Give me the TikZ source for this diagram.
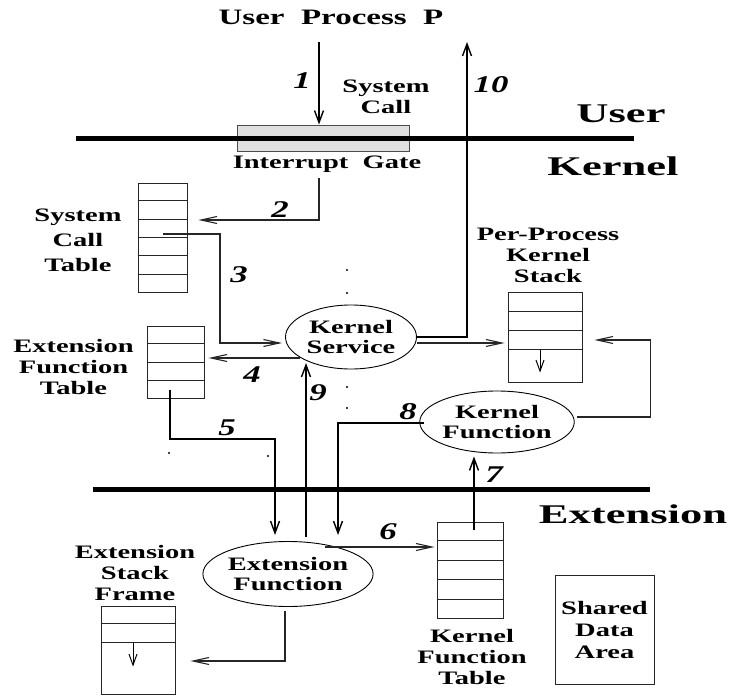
\documentclass[tikz,border=0pt]{standalone}
\usepackage{fontspec}
\setmainfont{Liberation Serif}
\newfontfamily\lblfont{Liberation Serif}[FakeStretch=1.5]
\newfontfamily\bigfont{Liberation Serif}[FakeStretch=1.65]
\newfontfamily\numfont{Liberation Serif}[FakeStretch=1.45]
\usetikzlibrary{arrows.meta,calc,shapes.geometric}

\tikzset{
  lbl/.style={font=\lblfont\bfseries\fontsize{19}{21}\selectfont, align=center, inner sep=0pt},
  biglbl/.style={font=\bigfont\bfseries\fontsize{27}{30}\selectfont, inner sep=0pt},
  num/.style={font=\numfont\bfseries\itshape\fontsize{24}{26}\selectfont, inner sep=0pt},
  tbl/.style={draw=black!85, line width=0.9pt, inner sep=0pt, fill=white},
  oval/.style={ellipse, draw, line width=0.9pt, inner sep=0pt, fill=white,
    font=\lblfont\bfseries\fontsize{19}{20}\selectfont, align=center},
  vflow/.style={line width=1.4pt, -{Straight Barb[length=12pt,width=9pt]}},
  hflow/.style={line width=1.1pt, draw=black!85, -{Straight Barb[length=16pt,width=7pt]}},
  border/.style={line width=5pt},
  dot/.style={circle, fill, inner sep=0pt, minimum size=2.2pt}
}

\begin{document}
\begin{tikzpicture}[x=1pt,y=-1pt]
\useasboundingbox (0,0) rectangle (734,696);

% ---- tables and boxes ----
\node[tbl, minimum width=49pt, minimum height=109pt] (sct) at (162.5,237.5) {};
\foreach \i in {1,...,5}
  \draw[black!85, line width=0.9pt] ($(sct.north west)!\i/6!(sct.south west)$) -- ($(sct.north east)!\i/6!(sct.south east)$);

\node[tbl, minimum width=57pt, minimum height=72pt] (eft) at (175.5,362) {};
\foreach \i in {1,...,3}
  \draw[black!85, line width=0.9pt] ($(eft.north west)!\i/4!(eft.south west)$) -- ($(eft.north east)!\i/4!(eft.south east)$);

\node[tbl, minimum width=74pt, minimum height=90pt] (pks) at (545,337) {};
\foreach \d in {20,39,58}
  \draw[black!85, line width=0.9pt] ($(pks.north west)+(0,\d)$) -- ($(pks.north east)+(0,\d)$);

\node[tbl, minimum width=66pt, minimum height=96pt] (kft) at (470,570) {};
\foreach \i in {1,...,4}
  \draw[black!85, line width=0.9pt] ($(kft.north west)!\i/5!(kft.south west)$) -- ($(kft.north east)!\i/5!(kft.south east)$);

\node[tbl, minimum width=74pt, minimum height=88pt] (esf) at (138,650) {};
\foreach \d in {18,37}
  \draw[black!85, line width=0.9pt] ($(esf.north west)+(0,\d)$) -- ($(esf.north east)+(0,\d)$);

\node[tbl, minimum width=99pt, minimum height=109pt, lbl] (sda) at (604.5,629.5) {};
\node[lbl] (sdatxt) at (sda.center) {Shared\\[1pt]Data\\[1pt]Area};

% interrupt gate straddling the user/kernel border
\node[draw=black!70, fill=black!12, line width=1pt, minimum width=172pt, minimum height=26pt, inner sep=0pt] (gate) at (323,138) {};

% ---- protection borders ----
\coordinate (ub1) at (76,138);  \coordinate (ub2) at (634,138);
\coordinate (eb1) at (93,489);  \coordinate (eb2) at (650,489);
\draw[border] (ub1) -- (ub2);
\draw[border] (eb1) -- (eb2);

% ---- ellipses ----
\node[oval, minimum width=131pt, minimum height=64pt] (ks) at (351,337) {Kernel\\Service};
\node[oval, minimum width=141pt, minimum height=62pt] (kf) at (497,422) {Kernel\\Function};
\node[oval, minimum width=147pt, minimum height=65pt] (ef) at (288,574) {Extension\\Function};

% ---- labels ----
\node[font=\lblfont\bfseries\fontsize{22}{24}\selectfont, inner sep=0pt] (up) at (331,17) {User\ \ Process\ \ P};
\node[lbl] (sclbl) at (386,97) {System\\Call};
\node[lbl] (iglbl) at (327,164) {Interrupt\ \ Gate};
\node[biglbl] (ulbl) at (621,114) {User};
\node[biglbl] (klbl) at (613,166) {Kernel};
\node[biglbl] (elbl) at (633,514) {Extension};
\node[lbl, font=\lblfont\bfseries\fontsize{19}{25}\selectfont] (sctlbl) at (78,240) {System\\Call\\Table};
\node[lbl] (eftlbl) at (73.5,367) {Extension\\Function\\Table};
\node[lbl] (pkslbl) at (548,255) {Per-Process\\Kernel\\Stack};
\node[lbl] (esflbl) at (135,573) {Extension\\Stack\\Frame};
\node[lbl] (kftlbl) at (472,657) {Kernel\\Function\\Table};

% step numbers
\node[num] (n1) at (302,81) {1};
\node[num] (n2) at (280,210) {2};
\node[num] (n3) at (239,275) {3};
\node[num] (n4) at (252,375) {4};
\node[num] (n5) at (227,428) {5};
\node[num] (n6) at (388,532) {6};
\node[num] (n7) at (494,475) {7};
\node[num] (n8) at (408,412) {8};
\node[num] (n9) at (318,393) {9};
\node[num] (n10) at (491,85) {10};

% ---- control flow ----
\coordinate (c1) at (319,42);
\draw[vflow] (c1) -- (c1 |- gate.north);

\coordinate (c10) at (467,42);
\draw[vflow] (ks.east) -| (c10);
\draw[hflow] ($(ks.east)+(0,6)$) -- ($(pks.west)+(-3,6)$);

\coordinate (c2) at (319,178);
\draw[hflow] (c2) |- ($(sct.east)+(11,-17.5)$);

\coordinate (c3) at (163,234);
\draw[hflow] (c3) -- ++(57,0) |- ($(ks.west)+(-3,6)$);

\draw[hflow] ($(ks.center)+(-51,21)$) -- ($(eft.east)+(4,-4)$);

\coordinate (c5) at (170,390);
\coordinate (c5e) at (275,535);
\draw[vflow] (c5) -- ++(0,49) -| (c5e);

\coordinate (c9) at (306,537);
\draw[vflow] (c9) -- ($(c9 |- ks.center)+(0,26)$);

\coordinate (c8) at (338,535);
\draw[vflow] ($(kf.west)+(5,1)$) -| (c8);

\coordinate (c7) at (474,530);
\draw[vflow] (c7) -- ($(c7 |- kf.south)+(0,3)$);

\draw[hflow] ($(ef.center)+(37,-27)$) -- ($(kft.west)+(-2,-23)$);

\draw[hflow] ($(ef.south)+(-3,4)$) |- ($(esf.east)+(15,11)$);

\draw[hflow] ($(kf.east)+(2,-5)$) -- ++(74,0) |- ($(pks.east)+(12,3)$);

% stack growth arrows
\draw[line width=1pt, -{Straight Barb[length=11pt,width=8pt]}] ($(pks.north)+(-5,58)$) -- ++(0,23);
\draw[line width=1pt, -{Straight Barb[length=11pt,width=8pt]}] ($(esf.north)+(-5,37)$) -- ++(0,24);

% ---- dots ----
\node[dot] (d1) at (347,270) {};
\node[dot] (d2) at (347,293) {};
\node[dot] (d3) at (347,387) {};
\node[dot] (d4) at (347,408) {};
\node[dot] (d5) at (169,453) {};
\node[dot] (d6) at (268,456) {};
\end{tikzpicture}
\end{document}
